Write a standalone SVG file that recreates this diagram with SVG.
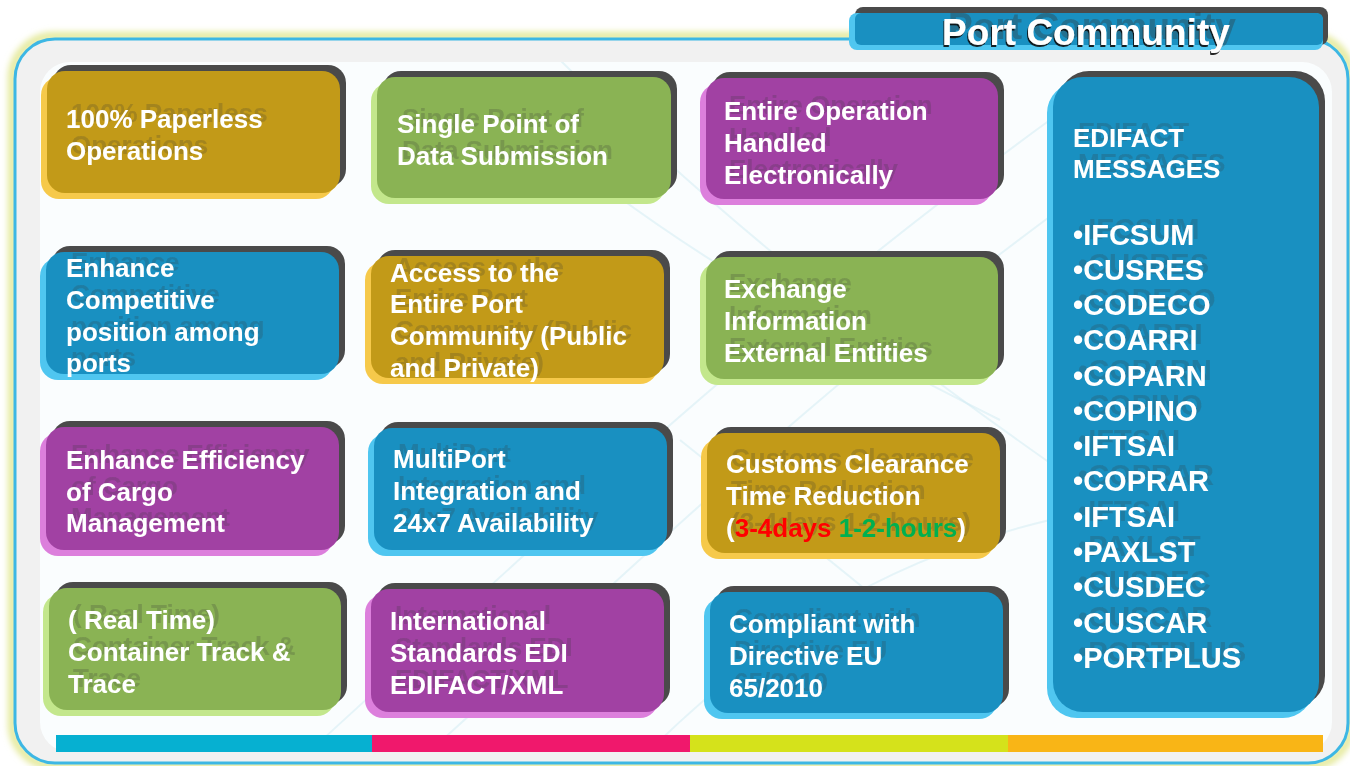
<svg xmlns="http://www.w3.org/2000/svg" width="1350" height="766" viewBox="0 0 1350 766">
<style>
.t{font-family:"Liberation Sans",Arial,sans-serif;font-weight:bold;fill:#fff;font-size:26px}
.lst{font-size:29px}
.dk{fill:#4a4a4a}
.gold .m{fill:#c29a18}.gold .l{fill:#f6c94a}
.green .m{fill:#8ab354}.green .l{fill:#c3e78c}
.purple .m{fill:#a141a3}.purple .l{fill:#dc7fdc}
.blue .m{fill:#1990c1}.blue .l{fill:#4fc6f0}
.sw{fill:none;stroke:#cde9f2;stroke-width:2;opacity:.45}
</style>
<defs>
<filter id="ts" x="-10%" y="-30%" width="120%" height="160%">
<feOffset in="SourceAlpha" dx="5" dy="-6" result="o"/>
<feFlood flood-color="#333" flood-opacity="0.22"/>
<feComposite in2="o" operator="in" result="s"/>
<feMerge><feMergeNode in="s"/><feMergeNode in="SourceGraphic"/></feMerge>
</filter>
<filter id="tt" x="-10%" y="-40%" width="120%" height="180%">
<feOffset in="SourceAlpha" dx="6" dy="-6" result="o"/>
<feFlood flood-color="#333" flood-opacity="0.35"/>
<feComposite in2="o" operator="in" result="s"/>
<feOffset in="SourceAlpha" dx="-1.5" dy="1.5" result="o2"/>
<feFlood flood-color="#111" flood-opacity="0.9"/>
<feComposite in2="o2" operator="in" result="s2"/>
<feMerge><feMergeNode in="s"/><feMergeNode in="s2"/><feMergeNode in="SourceGraphic"/></feMerge>
</filter>
<filter id="glow" x="-5%" y="-5%" width="110%" height="110%">
<feGaussianBlur stdDeviation="3"/>
</filter>
<clipPath id="inner"><rect x="40" y="62" width="1292" height="690" rx="30"/></clipPath>
</defs>

<!-- outer frame -->
<g id="frame">
<rect x="12" y="36" width="1339" height="730" rx="42" fill="none" stroke="#e4e99a" stroke-width="8" filter="url(#glow)"/>
<rect x="15" y="39" width="1333" height="724" rx="40" fill="#f1f1f1" stroke="#3db7e4" stroke-width="3"/>
<rect x="40" y="62" width="1292" height="690" rx="30" fill="#fafdfe"/>
<g clip-path="url(#inner)">
<path class="sw" d="M300 760 C520 560 760 330 1050 120"/>
<path class="sw" d="M420 760 C600 600 820 380 1100 180"/>
<path class="sw" d="M520 120 C640 220 760 300 1000 420"/>
<path class="sw" d="M560 60 C700 200 860 330 1060 470"/>
<path class="sw" d="M640 760 C760 640 880 560 1050 520"/>
<path class="sw" d="M680 440 C780 520 880 600 1000 700"/>
</g>
<rect x="56" y="735" width="316" height="17" fill="#06b0d1"/>
<rect x="372" y="735" width="318" height="17" fill="#f0186c"/>
<rect x="690" y="735" width="318" height="17" fill="#d5e21b"/>
<rect x="1008" y="735" width="315" height="17" fill="#f9b516"/>
</g>

<!-- title -->
<g id="title">
<rect x="855" y="7" width="473" height="38" rx="8" class="dk"/>
<rect x="849" y="13" width="474" height="37" rx="8" fill="#4fc6f0"/>
<rect x="855" y="13" width="468" height="32" rx="6" fill="#1990c1"/>
<text class="t" x="1086" y="45" text-anchor="middle" style="font-size:37px" filter="url(#tt)">Port Community</text>
</g>

<g id="nodes">
<g id="n1" class="gold">
<rect class="dk" x="53" y="65" width="293" height="122" rx="18"/>
<rect class="l" x="41" y="77" width="293" height="122" rx="18"/>
<rect class="m" x="47" y="71" width="293" height="122" rx="18"/>
<text class="t" filter="url(#ts)"><tspan x="66" y="128">100% Paperless</tspan><tspan x="66" y="160">Operations</tspan></text>
</g>
<g id="n2" class="green">
<rect class="dk" x="383" y="71" width="294" height="121" rx="18"/>
<rect class="l" x="371" y="83" width="294" height="121" rx="18"/>
<rect class="m" x="377" y="77" width="294" height="121" rx="18"/>
<text class="t" filter="url(#ts)"><tspan x="397" y="133">Single Point of</tspan><tspan x="397" y="165">Data Submission</tspan></text>
</g>
<g id="n3" class="purple">
<rect class="dk" x="712" y="72" width="292" height="121" rx="18"/>
<rect class="l" x="700" y="84" width="292" height="121" rx="18"/>
<rect class="m" x="706" y="78" width="292" height="121" rx="18"/>
<text class="t" filter="url(#ts)"><tspan x="724" y="120">Entire Operation</tspan><tspan x="724" y="152">Handled</tspan><tspan x="724" y="184">Electronically</tspan></text>
</g>
<g id="n4" class="blue">
<rect class="dk" x="1059" y="71" width="266" height="635" rx="30"/>
<rect class="l" x="1047" y="83" width="266" height="635" rx="30"/>
<rect class="m" x="1053" y="77" width="266" height="635" rx="30"/>
<text class="t" filter="url(#ts)"><tspan x="1073" y="147">EDIFACT</tspan><tspan x="1073" y="178">MESSAGES</tspan></text>
<text class="t lst" filter="url(#ts)">
<tspan x="1073" y="245">•IFCSUM</tspan>
<tspan x="1073" y="280">•CUSRES</tspan>
<tspan x="1073" y="315">•CODECO</tspan>
<tspan x="1073" y="350">•COARRI</tspan>
<tspan x="1073" y="386">•COPARN</tspan>
<tspan x="1073" y="421">•COPINO</tspan>
<tspan x="1073" y="456">•IFTSAI</tspan>
<tspan x="1073" y="491">•COPRAR</tspan>
<tspan x="1073" y="527">•IFTSAI</tspan>
<tspan x="1073" y="562">•PAXLST</tspan>
<tspan x="1073" y="597">•CUSDEC</tspan>
<tspan x="1073" y="633">•CUSCAR</tspan>
<tspan x="1073" y="668">•PORTPLUS</tspan>
</text>
</g>
<g id="n5" class="blue">
<rect class="dk" x="52" y="246" width="293" height="122" rx="18"/>
<rect class="l" x="40" y="258" width="293" height="122" rx="18"/>
<rect class="m" x="46" y="252" width="293" height="122" rx="18"/>
<text class="t" filter="url(#ts)"><tspan x="66" y="277">Enhance</tspan><tspan x="66" y="309">Competitive</tspan><tspan x="66" y="341">position among</tspan><tspan x="66" y="372">ports</tspan></text>
</g>
<g id="n6" class="gold">
<rect class="dk" x="377" y="250" width="293" height="122" rx="18"/>
<rect class="l" x="365" y="262" width="293" height="122" rx="18"/>
<rect class="m" x="371" y="256" width="293" height="122" rx="18"/>
<text class="t" filter="url(#ts)"><tspan x="390" y="282">Access to the</tspan><tspan x="390" y="313">Entire Port</tspan><tspan x="390" y="345">Community (Public</tspan><tspan x="390" y="377">and Private)</tspan></text>
</g>
<g id="n7" class="green">
<rect class="dk" x="712" y="251" width="292" height="122" rx="18"/>
<rect class="l" x="700" y="263" width="292" height="122" rx="18"/>
<rect class="m" x="706" y="257" width="292" height="122" rx="18"/>
<text class="t" filter="url(#ts)"><tspan x="724" y="298">Exchange</tspan><tspan x="724" y="330">Information</tspan><tspan x="724" y="362">External Entities</tspan></text>
</g>
<g id="n8" class="purple">
<rect class="dk" x="52" y="421" width="293" height="123" rx="18"/>
<rect class="l" x="40" y="433" width="293" height="123" rx="18"/>
<rect class="m" x="46" y="427" width="293" height="123" rx="18"/>
<text class="t" filter="url(#ts)"><tspan x="66" y="469">Enhance Efficiency</tspan><tspan x="66" y="501">of Cargo</tspan><tspan x="66" y="532">Management</tspan></text>
</g>
<g id="n9" class="blue">
<rect class="dk" x="380" y="422" width="293" height="122" rx="18"/>
<rect class="l" x="368" y="434" width="293" height="122" rx="18"/>
<rect class="m" x="374" y="428" width="293" height="122" rx="18"/>
<text class="t" filter="url(#ts)"><tspan x="393" y="468">MultiPort</tspan><tspan x="393" y="500">Integration and</tspan><tspan x="393" y="532">24x7 Availability</tspan></text>
</g>
<g id="n10" class="gold">
<rect class="dk" x="713" y="427" width="293" height="120" rx="18"/>
<rect class="l" x="701" y="439" width="293" height="120" rx="18"/>
<rect class="m" x="707" y="433" width="293" height="120" rx="18"/>
<text class="t" filter="url(#ts)"><tspan x="726" y="473">Customs Clearance</tspan><tspan x="726" y="505">Time Reduction</tspan><tspan x="726" y="537">(<tspan fill="#ff0000">3-4days</tspan> <tspan fill="#00b050">1-2-hours</tspan>)</tspan></text>
</g>
<g id="n11" class="green">
<rect class="dk" x="55" y="582" width="292" height="122" rx="18"/>
<rect class="l" x="43" y="594" width="292" height="122" rx="18"/>
<rect class="m" x="49" y="588" width="292" height="122" rx="18"/>
<text class="t" filter="url(#ts)"><tspan x="68" y="629">( Real Time)</tspan><tspan x="68" y="661">Container Track &amp;</tspan><tspan x="68" y="693">Trace</tspan></text>
</g>
<g id="n12" class="purple">
<rect class="dk" x="377" y="583" width="293" height="123" rx="18"/>
<rect class="l" x="365" y="595" width="293" height="123" rx="18"/>
<rect class="m" x="371" y="589" width="293" height="123" rx="18"/>
<text class="t" filter="url(#ts)"><tspan x="390" y="630">International</tspan><tspan x="390" y="662">Standards EDI</tspan><tspan x="390" y="694">EDIFACT/XML</tspan></text>
</g>
<g id="n13" class="blue">
<rect class="dk" x="716" y="586" width="293" height="121" rx="18"/>
<rect class="l" x="704" y="598" width="293" height="121" rx="18"/>
<rect class="m" x="710" y="592" width="293" height="121" rx="18"/>
<text class="t" filter="url(#ts)"><tspan x="729" y="633">Compliant with</tspan><tspan x="729" y="665">Directive EU</tspan><tspan x="729" y="697">65/2010</tspan></text>
</g>
</g>
<g id="connectors"/>
</svg>
